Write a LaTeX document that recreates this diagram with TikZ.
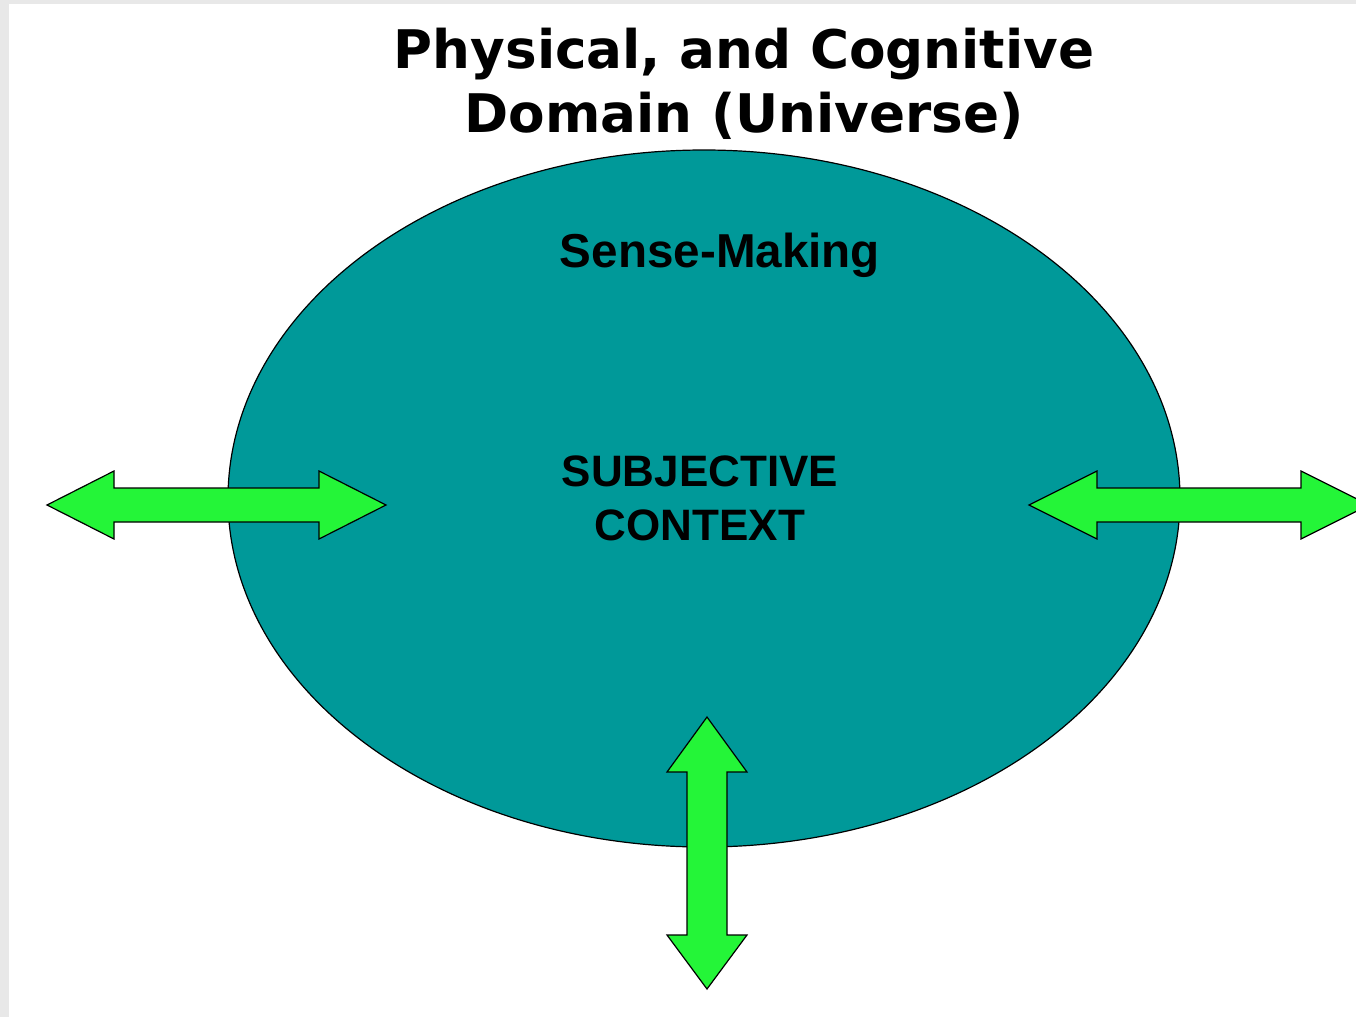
\documentclass[tikz,border=0pt]{standalone}
\usepackage{fontspec}
\setmainfont{Liberation Sans}
\newfontfamily\titlefont{DejaVu Sans}
\definecolor{bodyteal}{RGB}{0,153,153}
\definecolor{flowgreen}{RGB}{36,245,56}
\definecolor{pagegray}{RGB}{232,232,232}
\usetikzlibrary{shapes.geometric}

\begin{document}
\begin{tikzpicture}[x=0.5pt,y=-0.5pt,
    body/.style={ellipse,draw=black,line width=0.6pt,fill=bodyteal,inner sep=0pt,
      minimum width=476pt,minimum height=348.5pt},
    flow/.style={draw=black,line width=0.6pt,fill=flowgreen,line join=miter},
    title/.style={font=\titlefont\bfseries\fontsize{26.6}{32}\selectfont,align=center,anchor=base},
    label/.style={anchor=base,align=center}]
      \useasboundingbox (0,0) rectangle (1356,1017);
      \clip (0,0) rectangle (1356,1017);
      \fill[pagegray] (0,0) rectangle (1356,1017);
      \fill[white] (9,4) rectangle (1356,1017);
      \node[title] (domain) at (744,132) {Physical, and Cognitive\\Domain (Universe)};
      \node[body] (ctx) at (704,498.5) {};
      \node[label,font=\bfseries\fontsize{23.8}{28}\selectfont] (sense) at (720,267) {Sense-Making};
      \node[label,font=\bfseries\fontsize{22}{27}\selectfont] (subj) at (700,540.5) {SUBJECTIVE\\CONTEXT};
      % exchange arrows
      \draw[flow] (47,505) -- (114,471) -- (114,488) -- (319,488) -- (319,471) -- (386,505)
        -- (319,539) -- (319,522) -- (114,522) -- (114,539) -- cycle;
      \draw[flow] (1029,505) -- (1097,471) -- (1097,488) -- (1301,488) -- (1301,471) -- (1369,505)
        -- (1301,539) -- (1301,522) -- (1097,522) -- (1097,539) -- cycle;
      \draw[flow] (707,717) -- (747,772) -- (727,772) -- (727,935) -- (747,935) -- (707,989)
        -- (667,935) -- (687,935) -- (687,772) -- (667,772) -- cycle;
\end{tikzpicture}
\end{document}
